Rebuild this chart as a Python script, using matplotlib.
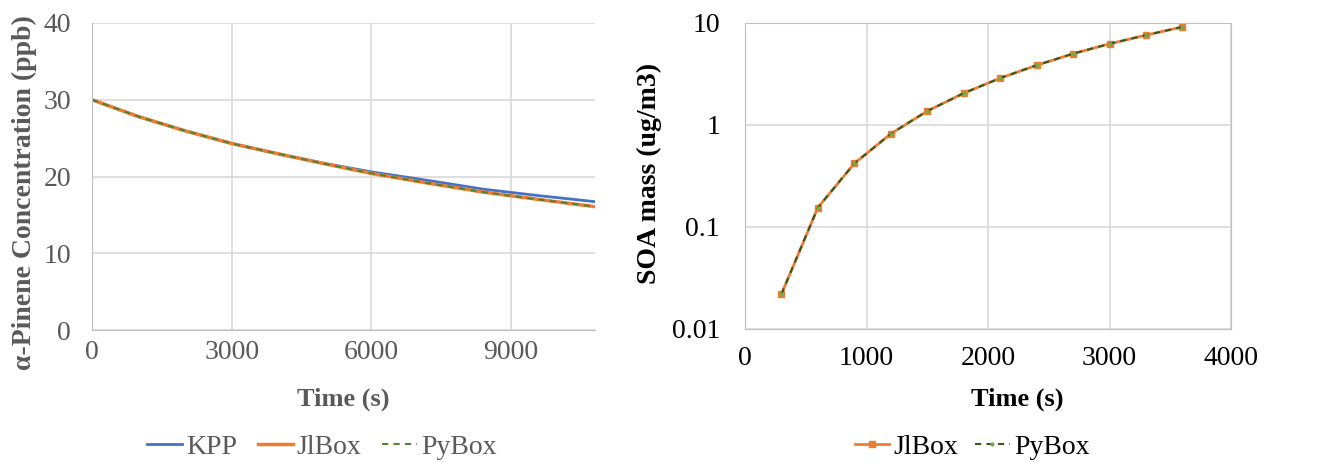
import numpy as np
import matplotlib.pyplot as plt
from matplotlib.ticker import FixedLocator, FuncFormatter

# alpha-pinene concentration (ppb)
t_conc = [0, 1000, 2000, 3000, 4000, 5000, 6000, 7200, 8400, 9600, 10800]
kpp_conc = [30.0, 27.8, 25.95, 24.3, 22.95, 21.7, 20.6, 19.5, 18.35, 17.5, 16.72]
jlbox_conc = [30.0, 27.8, 25.95, 24.3, 22.95, 21.65, 20.4, 19.15, 17.97, 17.0, 16.07]
pybox_conc = [30.0, 27.8, 25.95, 24.3, 22.95, 21.65, 20.4, 19.15, 17.97, 17.0, 16.07]

# SOA mass (ug/m3), right panel
t_soa = [300, 600, 900, 1200, 1500, 1800, 2100, 2400, 2700, 3000, 3300, 3600]
jlbox_soa = [0.022, 0.155, 0.42, 0.82, 1.37, 2.05, 2.88, 3.85, 5.0, 6.25, 7.6, 9.15]
pybox_soa = [0.022, 0.155, 0.42, 0.82, 1.37, 2.05, 2.88, 3.85, 5.0, 6.25, 7.6, 9.15]

plt.rcParams['font.family'] = ['Liberation Serif', 'DejaVu Serif']

W, H = 1317, 462
fig = plt.figure(figsize=(W/100, H/100), dpi=100)

GRID = "#D9D9D9"
SPINE = "#BFBFBF"
GRAY = "#595959"
FS = 20

# ---- left panel
ax1 = fig.add_axes([92/W, (H-330)/H, (595-92)/W, (330-23)/H])
ax1.plot(t_conc, kpp_conc, color="#4472C4", lw=2.0, label="KPP")
ax1.plot(t_conc, jlbox_conc, color="#ED7D31", lw=2.5, label="JlBox")
ax1.plot(t_conc, pybox_conc, color="#548235", lw=1.5, ls=(0, (3, 2.5)), label="PyBox")
ax1.set_xlim(0, 10800)
ax1.set_ylim(0, 40)
ax1.set_xticks([0, 3000, 6000, 9000])
ax1.set_yticks([0, 10, 20, 30, 40])
ax1.grid(True, color=GRID, lw=1.2)
ax1.set_axisbelow(True)
for s in ["top", "right"]:
    ax1.spines[s].set_visible(False)
for s in ["left", "bottom"]:
    ax1.spines[s].set_color(SPINE)
ax1.tick_params(length=0, labelsize=FS, labelcolor=GRAY)
ax1.tick_params(axis="x", pad=7)
ax1.tick_params(axis="y", pad=15)
ax1.set_xlabel("Time (s)", fontsize=19, fontweight="bold", color=GRAY)
ax1.set_ylabel("α-Pinene Concentration (ppb)", fontsize=FS, fontweight="bold", color=GRAY)
ax1.xaxis.set_label_coords((343-92)/503, (330-388)/307)
ax1.yaxis.set_label_coords((37-92)/503, (330-193)/307)
leg1 = ax1.legend(loc="center", bbox_to_anchor=(322/W, (H-447)/H), bbox_transform=fig.transFigure,
                  ncol=3, frameon=False, fontsize=FS, handlelength=1.25, handletextpad=0.15, columnspacing=0.75)
for txt in leg1.get_texts():
    txt.set_color(GRAY)

# ---- right panel
ax2 = fig.add_axes([745/W, (H-329)/H, (1231-745)/W, (329-23)/H])
ax2.plot(t_soa, jlbox_soa, color="#ED7D31", lw=2.0, marker="s", ms=5, label="JlBox")
ax2.plot(t_soa, pybox_soa, color="#375623", lw=1.5, ls=(0, (3, 2.5)), marker="o", ms=2,
         mfc="#70AD47", mec="#70AD47", label="PyBox")
ax2.set_yscale("log")
ax2.set_xlim(0, 4000)
ax2.set_ylim(0.01, 10)
ax2.set_xticks([0, 1000, 2000, 3000, 4000])
ax2.yaxis.set_major_locator(FixedLocator([0.01, 0.1, 1, 10]))
ax2.yaxis.set_minor_locator(FixedLocator([]))
ax2.yaxis.set_major_formatter(FuncFormatter(lambda v, p: f"{v:g}"))
ax2.grid(True, color=GRID, lw=1.2)
ax2.set_axisbelow(True)
for s in ax2.spines.values():
    s.set_color(SPINE)
ax2.tick_params(length=0, labelsize=FS, labelcolor="black")
ax2.tick_params(axis="x", pad=12)
ax2.tick_params(axis="y", pad=18)
ax2.set_xlabel("Time (s)", fontsize=19, fontweight="bold", color="black")
ax2.set_ylabel("SOA mass (ug/m3)", fontsize=FS, fontweight="bold", color="black")
ax2.xaxis.set_label_coords((1017-745)/486, (329-388)/306)
ax2.yaxis.set_label_coords((662-745)/486, (329-173)/306)
ax2.legend(loc="center", bbox_to_anchor=(972/W, (H-447)/H), bbox_transform=fig.transFigure,
           ncol=2, frameon=False, fontsize=FS, handlelength=1.25, handletextpad=0.15, columnspacing=0.6)

fig.savefig("out.png", dpi=100)
